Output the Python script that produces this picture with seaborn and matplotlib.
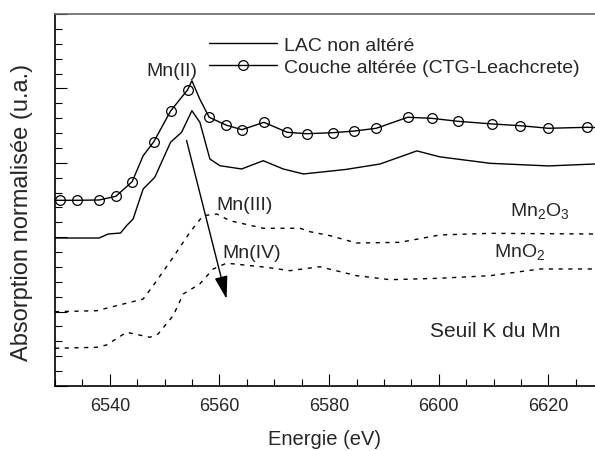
import pandas as pd
import matplotlib
matplotlib.use("Agg")
import matplotlib.pyplot as plt
from matplotlib.ticker import MultipleLocator, NullFormatter
import seaborn as sns

# LAC non altéré (solid line)
lac_energy = [6530, 6538.05, 6539.7, 6541.95, 6543.05, 6544.25, 6546.08, 6548.2, 6551.08,
              6553.09, 6554.97, 6556.43, 6558.25, 6560.08, 6564.04, 6567.98, 6571.63, 6575.3,
              6583.0, 6589.3, 6596.0, 6600.2, 6609.4, 6620.0, 6628.5]
lac_abs = [1.989, 1.989, 2.043, 2.056, 2.155, 2.245, 2.648, 2.805, 3.276,
           3.41, 3.70, 3.544, 3.051, 2.961, 2.917, 3.028, 2.917, 2.85,
           2.91, 2.984, 3.16, 3.08, 2.993, 2.958, 2.984]

# Couche altérée (CTG-Leachcrete), line with open circles
ctg_energy = [6530, 6531.0, 6534.03, 6538.05, 6541.1, 6544.07, 6546.08, 6548.03, 6551.08,
              6554.18, 6554.97, 6556.4, 6558.12, 6561.17, 6564.09, 6568.1, 6572.36, 6575.9,
              6580.76, 6584.6, 6588.6, 6594.33, 6598.7, 6603.46, 6609.78, 6614.83, 6620.0,
              6627.1, 6628.5]
ctg_abs = [2.496, 2.496, 2.496, 2.50, 2.55, 2.746, 3.095, 3.284, 3.696,
           3.98, 4.103, 3.858, 3.612, 3.508, 3.445, 3.544, 3.41, 3.391,
           3.405, 3.427, 3.464, 3.612, 3.598, 3.558, 3.522, 3.499, 3.464,
           3.477, 3.474]
ctg_markers = [1, 2, 3, 4, 5, 7, 8, 9, 12, 13, 14, 15, 16, 17, 18, 19, 20, 21, 22,
               23, 24, 25, 26, 27]

# Reference Mn2O3 (dotted)
mn2o3_energy = [6530, 6537.6, 6546.08, 6547.9, 6551.55, 6554.6, 6557.0, 6559.5, 6561.9,
                6568.0, 6574.7, 6576.5, 6580.2, 6585.0, 6592.9, 6600.2, 6609.4, 6628.5]
mn2o3_abs = [0.999, 1.012, 1.169, 1.348, 1.73, 2.066, 2.289, 2.312, 2.222,
             2.12, 2.12, 2.074, 2.02, 1.922, 1.931, 2.03, 2.052, 2.043]

# Reference MnO2 (dotted)
mno2_energy = [6530, 6537.6, 6539.4, 6543.05, 6547.3, 6548.8, 6551.55, 6553.4, 6556.4,
               6558.85, 6561.3, 6568.6, 6572.85, 6578.3, 6585.0, 6591.1, 6600.2, 6609.4,
               6618.5, 6628.5]
mno2_abs = [0.507, 0.52, 0.551, 0.722, 0.655, 0.699, 0.945, 1.237, 1.371,
            1.573, 1.651, 1.595, 1.55, 1.603, 1.483, 1.429, 1.448, 1.483,
            1.573, 1.573]

df_lac = pd.DataFrame({"Energie": lac_energy, "Absorption": lac_abs})
df_ctg = pd.DataFrame({"Energie": ctg_energy, "Absorption": ctg_abs})
df_mn2o3 = pd.DataFrame({"Energie": mn2o3_energy, "Absorption": mn2o3_abs})
df_mno2 = pd.DataFrame({"Energie": mno2_energy, "Absorption": mno2_abs})

sns.set_style("ticks")
plt.rcParams["font.family"] = ["Liberation Sans", "DejaVu Sans"]

fig = plt.figure(figsize=(5.95, 4.52), dpi=100)
ax = fig.add_axes([55 / 595, 1 - 387 / 452, 1 - 55 / 595, (387 - 15) / 452])

sns.lineplot(x="Energie", y="Absorption", data=df_lac, color="black", lw=1,
             label="LAC non altéré", ax=ax)
sns.lineplot(x="Energie", y="Absorption", data=df_ctg, color="black", lw=1,
             marker="o", markersize=7, markerfacecolor="none", markeredgecolor="black",
             markeredgewidth=0.9, markevery=ctg_markers,
             label="Couche altérée (CTG-Leachcrete)", ax=ax)
sns.lineplot(x="Energie", y="Absorption", data=df_mn2o3, color="black", lw=1,
             linestyle=(0, (3, 4)), ax=ax)
sns.lineplot(x="Energie", y="Absorption", data=df_mno2, color="black", lw=1,
             linestyle=(0, (3, 4)), ax=ax)

ax.set_xlim(6530, 6628.5)
ax.set_ylim(0, 5)
ax.xaxis.set_major_locator(MultipleLocator(20))
ax.xaxis.set_minor_locator(MultipleLocator(5))
ax.yaxis.set_major_locator(MultipleLocator(1))
ax.yaxis.set_minor_locator(MultipleLocator(0.2))
ax.yaxis.set_major_formatter(NullFormatter())
ax.tick_params(axis="both", which="major", direction="in", length=8.5, width=0.8,
               color="black", labelsize=13, pad=8)
ax.tick_params(axis="both", which="minor", direction="in", length=5, width=0.8,
               color="black")

for side in ["left", "bottom"]:
    ax.spines[side].set_color("black")
    ax.spines[side].set_linewidth(1.2)
ax.spines["top"].set_color("#666666")
ax.spines["top"].set_linewidth(1.2)
ax.spines["right"].set_visible(False)

ax.set_xlabel("Energie (eV)", fontsize=14.5, labelpad=10.5)
ax.set_ylabel("Absorption normalisée (u.a.)", fontsize=17)
ax.yaxis.set_label_coords(-0.040, 0.468)

# annotations
ax.text(6551.4, 4.238, "Mn(II)", fontsize=14, ha="center", va="center")
ax.text(6564.5, 2.437, "Mn(III)", fontsize=14, ha="center", va="center")
ax.text(6565.9, 1.797, "Mn(IV)", fontsize=14, ha="center", va="center")
ax.text(6618.5, 2.36, r"Mn$_\mathregular{2}$O$_\mathregular{3}$", fontsize=14,
        ha="center", va="center")
ax.text(6614.8, 1.80, r"MnO$_\mathregular{2}$", fontsize=14, ha="center", va="center")
ax.text(6610.3, 0.743, "Seuil K du Mn", fontsize=15, ha="center", va="center")

ax.annotate("", xy=(6561.3, 1.17), xytext=(6554.0, 3.3),
            arrowprops=dict(arrowstyle="-|>,head_length=1.4,head_width=0.4",
                            color="black", lw=1, shrinkA=0, shrinkB=0))

leg = ax.legend(loc="upper left", bbox_to_anchor=(209 / 595, 1 - 37 / 452),
                bbox_transform=fig.transFigure, frameon=False, fontsize=14,
                handlelength=3.5, handletextpad=0.35, labelspacing=0.25,
                borderpad=0, borderaxespad=0)

fig.savefig("out.png", dpi=100)
